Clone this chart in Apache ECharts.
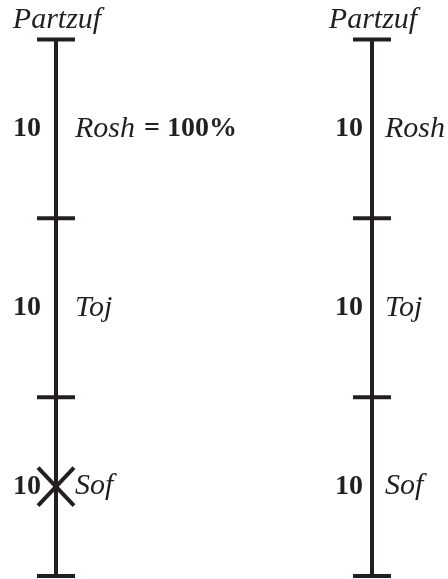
<!DOCTYPE html>
<html>
<head>
<meta charset="utf-8">
<script src="https://cdn.jsdelivr.net/npm/echarts@6/dist/echarts.min.js"></script>
<style>
html,body{margin:0;padding:0;background:#fff;}
#main{width:448px;height:579px;}
</style>
</head>
<body>
<div id="main"></div>
<script>
// ---- data ----
const columnTitles = ['Partzuf', 'Partzuf'];
const levelNames = ['Rosh', 'Toj', 'Sof'];
const leftValues = [10, 10, 10];
const rightValues = [10, 10, 10];
const boundaries = [0, 10, 20, 30];
const leftRoshNote = '= 100%';
const crossedLevel = 'Sof'; // crossed out in the left column

// ---- layout ----
const columns = [
  { x: 56, values: leftValues, numGap: 15, labelGap: 19, note: leftRoshNote, cross: true },
  { x: 372, values: rightValues, numGap: 9, labelGap: 13, note: '', cross: false }
];
const FAMILY = 'Liberation Serif';
const INK = '#231f20';

const chart = echarts.init(document.getElementById('main'));

function mids() {
  const m = [];
  for (let i = 0; i < boundaries.length - 1; i++) m.push((boundaries[i] + boundaries[i + 1]) / 2);
  return m;
}

const series = [];
columns.forEach((col, ci) => {
  series.push({
    type: 'line',
    data: [[col.x, boundaries[0]], [col.x, boundaries[boundaries.length - 1]]],
    symbol: 'none',
    lineStyle: { color: INK, width: 4 },
    silent: true,
    z: 2
  });
  series.push({
    type: 'custom',
    data: boundaries.map(b => [col.x, b]),
    renderItem: (params, api) => {
      const p = api.coord([api.value(0), api.value(1)]);
      return {
        type: 'line',
        shape: { x1: p[0] - 19, y1: p[1], x2: p[0] + 19, y2: p[1] },
        style: { stroke: INK, lineWidth: 4 }
      };
    },
    silent: true,
    z: 3
  });
  series.push({
    type: 'custom',
    data: [[col.x, boundaries[0]]],
    renderItem: (params, api) => {
      const p = api.coord([api.value(0), api.value(1)]);
      return {
        type: 'text',
        style: {
          x: p[0] + 1, y: p[1] - 19, text: columnTitles[ci],
          fontFamily: FAMILY, fontStyle: 'italic', fontSize: 30, fill: INK,
          align: 'center', verticalAlign: 'middle'
        }
      };
    },
    silent: true
  });
  const m = mids();
  series.push({
    type: 'custom',
    data: levelNames.map((n, i) => [col.x, m[i], col.values[i], i]),
    renderItem: (params, api) => {
      const idx = api.value(3);
      const p = api.coord([api.value(0), api.value(1)]);
      const name = levelNames[idx];
      const children = [
        {
          type: 'text',
          style: {
            x: p[0] - col.numGap, y: p[1], text: String(api.value(2)),
            fontFamily: FAMILY, fontWeight: 'bold', fontSize: 28, fill: INK,
            align: 'right', verticalAlign: 'middle'
          }
        },
        {
          type: 'text',
          style: {
            x: p[0] + col.labelGap, y: p[1],
            text: (idx === 0 && col.note) ? '{n|' + name + '}{s| }{v|' + col.note + '}' : '{n|' + name + '}',
            rich: {
              n: { fontFamily: FAMILY, fontStyle: 'italic', fontSize: 30, fill: INK },
              s: { fontFamily: FAMILY, fontSize: 26, width: 9 },
              v: { fontFamily: FAMILY, fontWeight: 'bold', fontSize: 28, fill: INK }
            },
            align: 'left', verticalAlign: 'middle'
          }
        }
      ];
      if (col.cross && name === crossedLevel) {
        children.push(
          { type: 'line', shape: { x1: p[0] - 18, y1: p[1] - 19, x2: p[0] + 18, y2: p[1] + 19 }, style: { stroke: INK, lineWidth: 4 } },
          { type: 'line', shape: { x1: p[0] - 18, y1: p[1] + 19, x2: p[0] + 18, y2: p[1] - 19 }, style: { stroke: INK, lineWidth: 4 } }
        );
      }
      return { type: 'group', children };
    },
    silent: true,
    z: 4
  });
});

chart.setOption({
  animation: false,
  backgroundColor: '#ffffff',
  grid: { left: 0, right: 0, top: 39.5, bottom: 3 },
  xAxis: { type: 'value', min: 0, max: 448, show: false },
  yAxis: { type: 'value', min: 0, max: 30, inverse: true, show: false },
  series
});
</script>
</body>
</html>
